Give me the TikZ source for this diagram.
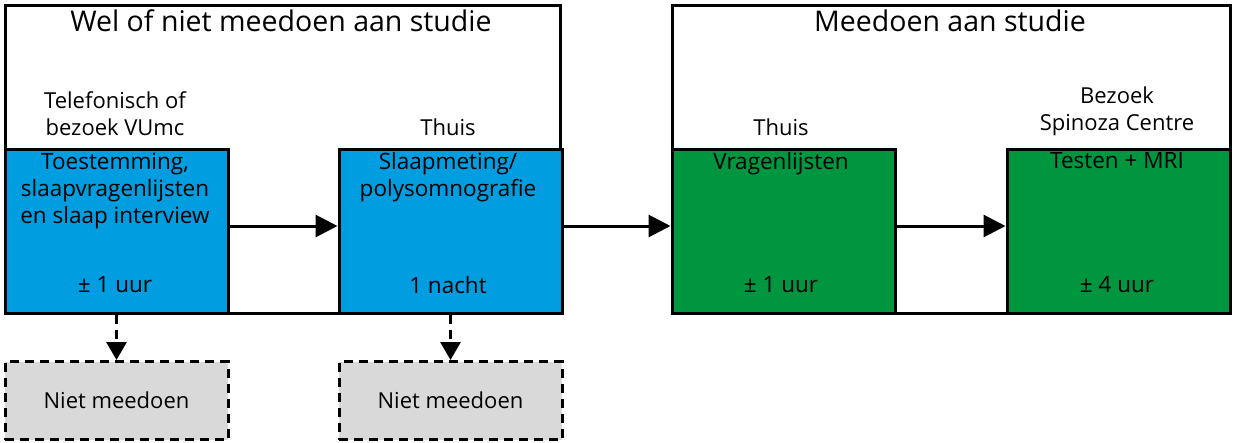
\documentclass[tikz,border=0pt]{standalone}
\usepackage{fontspec}
\setmainfont{Open Sans}
\usetikzlibrary{arrows.meta}
\definecolor{bl}{RGB}{0,157,224}
\definecolor{gr}{RGB}{0,150,64}
\definecolor{gy}{RGB}{217,217,217}
\begin{document}
\begin{tikzpicture}[x=1pt,y=-1pt,line width=3pt,
 box/.style={draw,minimum width=223pt,minimum height=164pt,anchor=north west,inner sep=0pt},
 bluebox/.style={box,fill=bl},
 greenbox/.style={box,fill=gr},
 graybox/.style={draw,dashed,dash pattern=on 9pt off 6pt,fill=gy,minimum width=223pt,minimum height=78pt,anchor=north west,font=\fontsize{22}{26}\selectfont},
 inner/.style={font=\fontsize{22.5}{27}\selectfont,align=center,anchor=north},
 lbl/.style={font=\fontsize{22}{27}\selectfont,align=center,anchor=south},
 ttl/.style={font=\fontsize{28.5}{34}\selectfont,anchor=north},
 arr/.style={-{Triangle[length=22pt,width=22pt]}},
 darr/.style={-{Triangle[length=18pt,width=20pt]},dash pattern=on 9pt off 6pt}]
\useasboundingbox (0,0) rectangle (1249,442);
\node[draw,minimum width=555pt,minimum height=308pt,anchor=north west,inner sep=0pt] (L) at (3.5,3.5) {};
\node[draw,minimum width=558pt,minimum height=308pt,anchor=north west,inner sep=0pt] (R) at (670.5,3.5) {};
\node[ttl] (tl) at (281,5) {Wel of niet meedoen aan studie};
\node[ttl] (tr) at (950,5) {Meedoen aan studie};
\node[bluebox] (b1) at (3.5,147.5) {};
\node[bluebox] (b2) at (337.5,147.5) {};
\node[greenbox] (g1) at (670.5,147.5) {};
\node[greenbox] (g2) at (1005.5,147.5) {};
\node[inner] (t1) at (115,148) {Toestemming,\\slaapvragenlijsten\\en slaap interview};
\node[inner] (t2) at (448,148) {Slaapmeting/\\polysomnografie};
\node[inner] (t3) at (781,148) {Vragenlijsten};
\node[inner] (t4) at (1117,148) {Testen + MRI};
\node[inner] (d1) at (115,272) {± 1 uur};
\node[inner] (d2) at (448,272) {1 nacht};
\node[inner] (d3) at (781,272) {± 1 uur};
\node[inner] (d4) at (1117,272) {± 4 uur};
\node[lbl] (l1) at (115,141) {Telefonisch of\\bezoek VUmc};
\node[lbl] (l2) at (448,141) {Thuis};
\node[lbl] (l3) at (781,141) {Thuis};
\node[lbl] (l4) at (1117,141) {Bezoek\\Spinoza Centre};
\node[graybox] (n1) at (3.5,360) {Niet meedoen};
\node[graybox] (n2) at (337.5,360) {Niet meedoen};
\draw[arr] (b1.east |- 0,226) -- (b2.west |- 0,226);
\draw[arr] (b2.east |- 0,226) -- (g1.west |- 0,226);
\draw[arr] (g1.east |- 0,226) -- (g2.west |- 0,226);
\draw[darr] (b1.south) -- (n1.north);
\draw[darr] (b2.south) -- (n2.north);
\end{tikzpicture}
\end{document}
